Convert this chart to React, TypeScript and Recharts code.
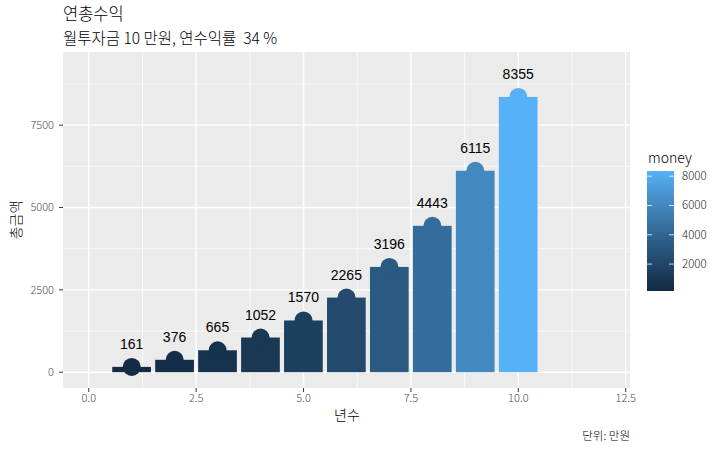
import { Bar, CartesianGrid, ComposedChart, LabelList, Scatter, XAxis, YAxis } from "recharts";

const years = [1, 2, 3, 4, 5, 6, 7, 8, 9, 10];
const money = [161, 376, 665, 1052, 1570, 2265, 3196, 4443, 6115, 8355];
const xTicks = [0, 2.5, 5, 7.5, 10, 12.5];
const xMinor = [1.25, 3.75, 6.25, 8.75, 11.25];
const yTicks = [0, 2500, 5000, 7500];
const yMinor = [1250, 3750, 6250, 8750];
const legendTicks = [2000, 4000, 6000, 8000];

const data = years.map((year, i) => ({ year, money: money[i] }));

const LOW = "#132B43";
const HIGH = "#56B1F7";
const minV = Math.min(...money);
const maxV = Math.max(...money);

// ggplot style gradient, interpolated in Lab
function toLab(hex: string) {
  const c = [1, 3, 5].map((i) => parseInt(hex.slice(i, i + 2), 16) / 255);
  const l = c.map((v) => (v <= 0.04045 ? v / 12.92 : Math.pow((v + 0.055) / 1.055, 2.4)));
  const X = (0.4124 * l[0] + 0.3576 * l[1] + 0.1805 * l[2]) / 0.95047;
  const Y = 0.2126 * l[0] + 0.7152 * l[1] + 0.0722 * l[2];
  const Z = (0.0193 * l[0] + 0.1192 * l[1] + 0.9505 * l[2]) / 1.08883;
  const f = (t: number) => (t > 0.008856 ? Math.cbrt(t) : 7.787 * t + 16 / 116);
  return [116 * f(Y) - 16, 500 * (f(X) - f(Y)), 200 * (f(Y) - f(Z))];
}
function fromLab([L, a, b]: number[]) {
  const fy = (L + 16) / 116;
  const fx = fy + a / 500;
  const fz = fy - b / 200;
  const g = (t: number) => (t * t * t > 0.008856 ? t * t * t : (t - 16 / 116) / 7.787);
  const X = g(fx) * 0.95047;
  const Y = g(fy);
  const Z = g(fz) * 1.08883;
  const r = 3.2406 * X - 1.5372 * Y - 0.4986 * Z;
  const gg = -0.9689 * X + 1.8758 * Y + 0.0415 * Z;
  const bb = 0.0557 * X - 0.204 * Y + 1.057 * Z;
  const enc = (v: number) => {
    const s = v <= 0.0031308 ? 12.92 * v : 1.055 * Math.pow(v, 1 / 2.4) - 0.055;
    return Math.round(Math.min(1, Math.max(0, s)) * 255).toString(16).padStart(2, "0");
  };
  return "#" + enc(r) + enc(gg) + enc(bb);
}
const lowLab = toLab(LOW);
const highLab = toLab(HIGH);
function colorFor(v: number) {
  const t = (v - minV) / (maxV - minV);
  return fromLab(lowLab.map((c, i) => c + (highLab[i] - c) * t));
}

const font = "'Noto Sans CJK KR', 'Noto Sans', sans-serif";
const tickStyle = { fontSize: 11, fill: "#4D4D4D", fontFamily: font, fontWeight: 300 };

function ValueLabel(props: any) {
  const { x, y, width, value } = props;
  return (
    <text x={x + width / 2} y={y - 18} textAnchor="middle" fontSize={14} fill="#000" fontFamily="'Liberation Sans', Arial, sans-serif">
      {value}
    </text>
  );
}

function Legend() {
  const top = 171;
  const h = 120;
  const pos = (v: number) => top + h - ((v - minV) / (maxV - minV)) * h;
  const stops = Array.from({ length: 11 }, (_, i) => i / 10);
  return (
    <g>
      <defs>
        <linearGradient id="moneyBar" x1="0" y1="1" x2="0" y2="0">
          {stops.map((s) => (
            <stop key={s} offset={s} stopColor={colorFor(minV + s * (maxV - minV))} />
          ))}
        </linearGradient>
      </defs>
      <text x={648} y={163} fontSize={14} fill="#000" fontFamily={font} fontWeight={300}>money</text>
      <rect x={647} y={top} width={27} height={h} fill="url(#moneyBar)" />
      {legendTicks.map((t) => (
        <g key={t}>
          <line x1={647} x2={652} y1={pos(t)} y2={pos(t)} stroke="#fff" strokeWidth={0.8} />
          <line x1={669} x2={674} y1={pos(t)} y2={pos(t)} stroke="#fff" strokeWidth={0.8} />
          <text x={682} y={pos(t) + 4} fontSize={11.5} fill="#1A1A1A" fontFamily={font} fontWeight={300}>{t}</text>
        </g>
      ))}
    </g>
  );
}

export default function App() {
  return (
    <div style={{ position: "absolute", left: 0, top: 0, width: 720, height: 452, background: "#fff" }}>
      <ComposedChart width={720} height={452} data={data} margin={{ top: 52, right: 90, bottom: 38, left: 23 }}>
        <CartesianGrid
          fill="#EBEBEB"
          stroke="#fff"
          strokeWidth={0.7}
          horizontalValues={yMinor}
          verticalValues={xMinor}
        />
        <CartesianGrid stroke="#fff" strokeWidth={1.4} horizontalValues={yTicks} verticalValues={xTicks} />
        <XAxis
          dataKey="year"
          type="number"
          domain={[-0.6, 12.6]}
          ticks={xTicks}
          tickFormatter={(v: number) => v.toFixed(1)}
          axisLine={false}
          tickLine={{ stroke: "#333" }}
          tickSize={4}
          tick={tickStyle}
          height={26}
          allowDataOverflow
        />
        <YAxis
          type="number"
          domain={[-480, 9720]}
          ticks={yTicks}
          axisLine={false}
          tickLine={{ stroke: "#333" }}
          tickSize={4}
          tickMargin={5}
          tick={tickStyle}
          width={40}
          allowDataOverflow
        />
        <Bar dataKey="money" barSize={38.7} isAnimationActive={false} shape={(p: any) => (
          <rect x={p.x} y={p.y} width={p.width} height={p.height} fill={colorFor(p.payload.money)} />
        )}>
          <LabelList dataKey="money" content={ValueLabel} />
        </Bar>
        <Scatter dataKey="money" isAnimationActive={false} shape={(p: any) => (
          <circle cx={p.cx} cy={p.cy} r={9} fill={colorFor(p.payload.money)} />
        )} />
      </ComposedChart>
      <svg width={720} height={452} style={{ position: "absolute", left: 0, top: 0, pointerEvents: "none" }}>
        <text x={63} y={20} fontSize={16.5} fill="#000" fontFamily={font} fontWeight={300}>연총수익</text>
        <text x={63} y={44} fontSize={15.5} fill="#000" fontFamily={font} fontWeight={300} style={{ whiteSpace: "pre" }}>
          {"월투자금 10 만원, 연수익률  34 %"}
        </text>
        <text x={347} y={420} fontSize={14} textAnchor="middle" fill="#000" fontFamily={font} fontWeight={300}>년수</text>
        <text x={21} y={220} fontSize={14} textAnchor="middle" fill="#000" fontFamily={font} fontWeight={300} transform="rotate(-90 21 220)">총금액</text>
        <text x={630} y={440} fontSize={11.5} textAnchor="end" fill="#000" fontFamily={font} fontWeight={300}>단위: 만원</text>
        <Legend />
      </svg>
    </div>
  );
}
